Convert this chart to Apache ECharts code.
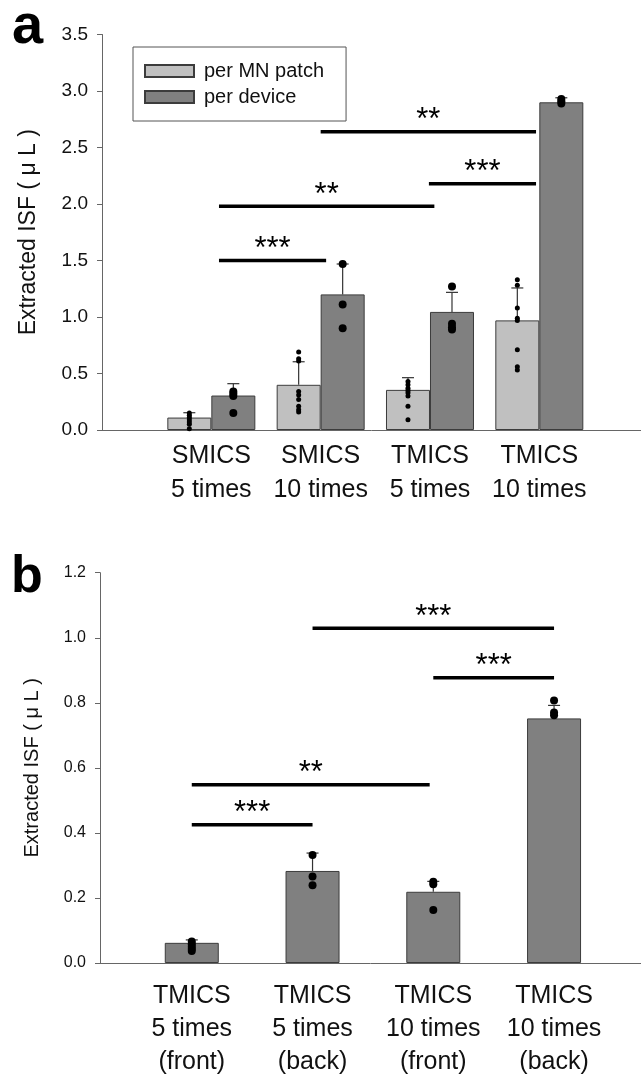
<!DOCTYPE html>
<html>
<head>
<meta charset="utf-8">
<script src="https://cdn.jsdelivr.net/npm/echarts@6/dist/echarts.min.js"></script>
<style>
  html, body { margin: 0; padding: 0; background: #fff; }
  #chart { width: 641px; height: 1079px; }
</style>
</head>
<body>
<div id="chart"></div>
<script>
// panel a
const groupsA = ['SMICS\n5 times', 'SMICS\n10 times', 'TMICS\n5 times', 'TMICS\n10 times'];
const patchMean = [0.11, 0.40, 0.355, 0.97];
const patchSd = [0.043, 0.204, 0.108, 0.287];
const deviceMean = [0.305, 1.20, 1.045, 2.90];
const deviceSd = [0.105, 0.269, 0.173, 0.04];
const patchPoints = [
  [0.15, 0.13, 0.11, 0.09, 0.07, 0.05, 0.01],
  [0.69, 0.63, 0.61, 0.34, 0.31, 0.27, 0.21, 0.18, 0.16],
  [0.43, 0.40, 0.37, 0.35, 0.33, 0.30, 0.21, 0.09],
  [1.33, 1.28, 1.08, 0.99, 0.97, 0.71, 0.56, 0.53]
];
const devicePoints = [
  [0.34, 0.32, 0.30, 0.15],
  [1.47, 1.11, 0.90],
  [1.27, 0.94, 0.91, 0.89],
  [2.93, 2.91, 2.89]
];
// [from, to, height, stars]
const sigA = [
  [1.07, 2.05, 1.5, '***'],
  [1.07, 3.04, 1.98, '**'],
  [2.99, 3.97, 2.18, '***'],
  [2.0, 3.97, 2.64, '**']
];

// panel b
const groupsB = ['TMICS\n5 times\n(front)', 'TMICS\n5 times\n(back)', 'TMICS\n10 times\n(front)', 'TMICS\n10 times\n(back)'];
const meanB = [0.062, 0.283, 0.219, 0.752];
const sdB = [0.009, 0.055, 0.032, 0.04];
const pointsB = [
  [0.066, 0.058, 0.05, 0.043, 0.037],
  [0.332, 0.266, 0.239],
  [0.25, 0.242, 0.163],
  [0.807, 0.77, 0.762]
];
const sigB = [
  [1, 2, 0.425, '***'],
  [1, 2.97, 0.548, '**'],
  [3, 4, 0.877, '***'],
  [2, 4, 1.029, '***']
];

const FONT = '"Liberation Sans", Arial, sans-serif';
const LIGHT = '#c0c0c0';
const DARK = '#808080';
const EDGE = '#3c3c3c';
const BW_A = 44;
const BW_B = 54;

function barData(means) {
  return means.map((v, i) => [i + 1, v]);
}
function errData(means, sds) {
  return means.map((v, i) => [i + 1, v, v + sds[i]]);
}
function dotData(points) {
  const out = [];
  points.forEach((arr, i) => arr.forEach(v => out.push([i + 1, v])));
  return out;
}

function errorBars(xi, yi, data, shift) {
  return {
    type: 'custom',
    xAxisIndex: xi,
    yAxisIndex: yi,
    data: data,
    z: 3,
    renderItem: (params, api) => {
      const p0 = api.coord([api.value(0), api.value(1)]);
      const p1 = api.coord([api.value(0), api.value(2)]);
      const x = p0[0] + shift;
      const style = { stroke: '#333', lineWidth: 1.2 };
      return {
        type: 'group',
        children: [
          { type: 'line', shape: { x1: x, y1: p0[1], x2: x, y2: p1[1] }, style: style },
          { type: 'line', shape: { x1: x - 6, y1: p1[1], x2: x + 6, y2: p1[1] }, style: style }
        ]
      };
    }
  };
}

function dots(xi, yi, data, shift, size) {
  return {
    type: 'scatter',
    xAxisIndex: xi,
    yAxisIndex: yi,
    data: data,
    symbolSize: size,
    symbolOffset: [shift, 0],
    itemStyle: { color: '#000', opacity: 1 },
    z: 4
  };
}

function sigLines(xi, yi, data, lift) {
  return {
    type: 'custom',
    xAxisIndex: xi,
    yAxisIndex: yi,
    data: data,
    z: 5,
    renderItem: (params, api) => {
      const a = api.coord([api.value(0), api.value(2)]);
      const b = api.coord([api.value(1), api.value(2)]);
      const stars = data[params.dataIndex][3];
      return {
        type: 'group',
        children: [
          { type: 'line', shape: { x1: a[0], y1: a[1], x2: b[0], y2: a[1] }, style: { stroke: '#000', lineWidth: 3.5 } },
          {
            type: 'text',
            style: {
              text: stars, x: (a[0] + b[0]) / 2, y: a[1] - lift,
              textAlign: 'center', textVerticalAlign: 'middle',
              font: '31px ' + FONT, fill: '#000'
            }
          }
        ]
      };
    }
  };
}

const chart = echarts.init(document.getElementById('chart'));

chart.setOption({
  animation: false,
  textStyle: { fontFamily: FONT },
  graphic: [
    { type: 'text', left: 12, top: 0, style: { text: 'a', font: 'bold 56px ' + FONT, fill: '#000', x: 0, y: 0 } },
    { type: 'text', left: 11, top: 552, style: { text: 'b', font: 'bold 52px ' + FONT, fill: '#000', x: 0, y: 0 } }
  ],
  legend: {
    data: ['per MN patch', 'per device'],
    orient: 'vertical',
    left: 133,
    top: 47,
    padding: [14, 22, 14, 11],
    itemGap: 6,
    itemWidth: 49,
    itemHeight: 12,
    borderColor: '#555',
    borderWidth: 1,
    borderRadius: 0,
    icon: 'rect',
    textStyle: { fontSize: 20, color: '#111', padding: [0, 0, 0, 5] }
  },
  grid: [
    { left: 102, top: 34.5, right: 0, height: 395.5 },
    { left: 100, top: 572.7, right: 0, height: 390.8 }
  ],
  xAxis: [
    {
      type: 'value', gridIndex: 0, min: 0, max: 4.93,
      splitLine: { show: false },
      axisLine: { show: true, lineStyle: { color: '#666', width: 1 } },
      axisTick: { show: false },
      axisLabel: {
        customValues: [1, 2, 3, 4],
        formatter: v => groupsA[Math.round(v) - 1] || '',
        fontSize: 25, lineHeight: 34, margin: 9, color: '#111'
      }
    },
    {
      type: 'value', gridIndex: 1, min: 0.24, max: 4.72,
      splitLine: { show: false },
      axisLine: { show: true, lineStyle: { color: '#666', width: 1 } },
      axisTick: { show: false },
      axisLabel: {
        customValues: [1, 2, 3, 4],
        formatter: v => groupsB[Math.round(v) - 1] || '',
        fontSize: 25, lineHeight: 33, margin: 17, color: '#111'
      }
    }
  ],
  yAxis: [
    {
      type: 'value', gridIndex: 0, min: 0, max: 3.5, interval: 0.5,
      name: 'Extracted ISF ( μ L )', nameLocation: 'middle', nameGap: 62,
      nameTextStyle: { fontSize: 23, color: '#111' },
      splitLine: { show: false },
      axisLine: { show: true, lineStyle: { color: '#666', width: 1 } },
      axisTick: { show: true, length: 5, lineStyle: { color: '#666' } },
      axisLabel: { formatter: v => v.toFixed(1), fontSize: 19, margin: 14, color: '#111' }
    },
    {
      type: 'value', gridIndex: 1, min: 0, max: 1.2, interval: 0.2,
      name: 'Extracted ISF ( μ L )', nameLocation: 'middle', nameGap: 58,
      nameTextStyle: { fontSize: 20, color: '#111' },
      splitLine: { show: false },
      axisLine: { show: true, lineStyle: { color: '#666', width: 1 } },
      axisTick: { show: true, length: 5, lineStyle: { color: '#666' } },
      axisLabel: { formatter: v => v.toFixed(1), fontSize: 16, margin: 14, color: '#111' }
    }
  ],
  series: [
    {
      name: 'per MN patch', type: 'bar', xAxisIndex: 0, yAxisIndex: 0,
      data: barData(patchMean), barWidth: BW_A, barGap: '0%',
      itemStyle: { color: LIGHT, borderColor: EDGE, borderWidth: 1 }
    },
    {
      name: 'per device', type: 'bar', xAxisIndex: 0, yAxisIndex: 0,
      data: barData(deviceMean), barWidth: BW_A, barGap: '0%',
      itemStyle: { color: DARK, borderColor: EDGE, borderWidth: 1 }
    },
    errorBars(0, 0, errData(patchMean, patchSd), -BW_A / 2),
    errorBars(0, 0, errData(deviceMean, deviceSd), BW_A / 2),
    dots(0, 0, dotData(patchPoints), -BW_A / 2, 5),
    dots(0, 0, dotData(devicePoints), BW_A / 2, 8),
    sigLines(0, 0, sigA, 11),

    {
      name: 'b', type: 'bar', xAxisIndex: 1, yAxisIndex: 1,
      data: barData(meanB), barWidth: BW_B,
      itemStyle: { color: DARK, borderColor: EDGE, borderWidth: 1 }
    },
    errorBars(1, 1, errData(meanB, sdB), 0),
    dots(1, 1, dotData(pointsB), 0, 8),
    sigLines(1, 1, sigB, 11)
  ]
});
</script>
</body>
</html>
